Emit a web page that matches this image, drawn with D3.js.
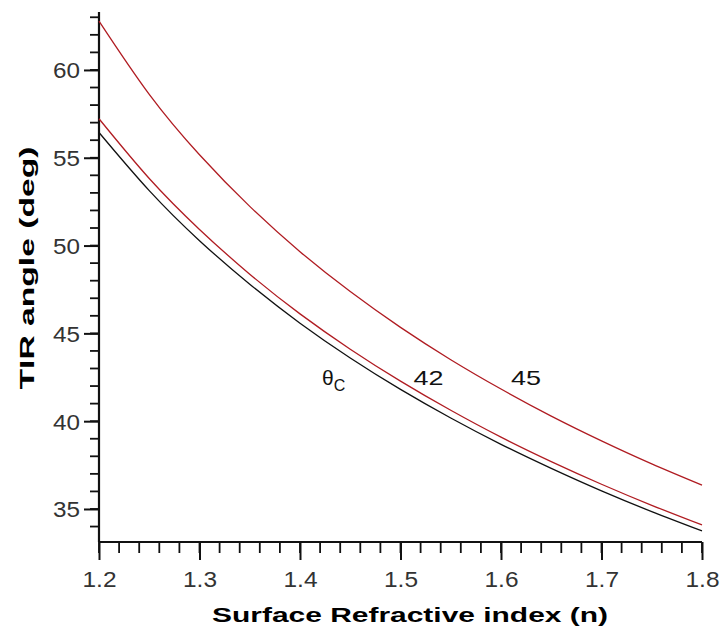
<!DOCTYPE html>
<html><head><meta charset="utf-8">
<script src="https://cdn.jsdelivr.net/npm/d3@7"></script>
<style>body{margin:0;background:#fff}svg{display:block}</style>
</head><body>
<svg id="c" width="724" height="633"></svg>
<script>
const nValues = [1.2,1.25,1.3,1.35,1.4,1.45,1.5,1.55,1.6,1.65,1.7,1.75,1.8];
const thetaC  = [56.44,53.13,50.28,47.80,45.58,43.60,41.81,40.18,38.68,37.31,36.03,34.85,33.75];
const tir42   = [57.22,53.82,50.92,48.37,46.11,44.10,42.28,40.62,39.09,37.70,36.41,35.21,34.09];
const tir45   = [62.78,58.61,55.17,52.23,49.65,47.38,45.34,43.50,41.83,40.29,38.88,37.57,36.36];
const xTickLabels = ["1.2","1.3","1.4","1.5","1.6","1.7","1.8"];
const yTickLabels = ["35","40","45","50","55","60"];
const seriesNames = ["θc","42","45"];

const svg = d3.select("#c");
const x = d3.scaleLinear().domain([1.2,1.8]).range([99,702]);
const y = d3.scaleLinear().domain([33.12,63.3]).range([542,12]);
const font = "Arial, 'Liberation Sans', sans-serif";

// minor ticks
const xMinor = d3.range(0,31).map(i=>1.2+i*0.02);
svg.append("g").selectAll("line").data(xMinor).join("line")
  .attr("x1",d=>x(d)).attr("x2",d=>x(d)).attr("y1",542).attr("y2",553)
  .attr("stroke","#111").attr("stroke-width",1.8);
const yMinor = d3.range(34,64);
svg.append("g").selectAll("line").data(yMinor).join("line")
  .attr("x1",90).attr("x2",99).attr("y1",d=>y(d)).attr("y2",d=>y(d))
  .attr("stroke","#111").attr("stroke-width",1.8);

// axes with major ticks
const xAxis = d3.axisBottom(x).tickValues(xTickLabels.map(Number)).tickSize(18).tickPadding(12).tickFormat(d=>d.toFixed(1));
const gx = svg.append("g").attr("transform","translate(0,542)").call(xAxis);
const yAxis = d3.axisLeft(y).tickValues(yTickLabels.map(Number)).tickSize(15).tickPadding(4);
const gy = svg.append("g").attr("transform","translate(99,0)").call(yAxis);
[gx,gy].forEach(g=>{
  g.select(".domain").attr("stroke","#111").attr("stroke-width",2.2);
  g.selectAll(".tick line").attr("stroke","#111").attr("stroke-width",2);
  g.selectAll(".tick text").attr("fill","#333").style("font-family",font).style("font-size","22px")
    .attr("lengthAdjust","spacingAndGlyphs");
});
gy.select(".domain").attr("d","M0,12V542");
gx.select(".domain").attr("d","M99,0H702");
gx.selectAll(".tick text").attr("dy","0.71em").attr("y",29).attr("textLength",34);
gy.selectAll(".tick text").attr("dy","0.36em").attr("x",-19).attr("textLength",27);

// curves
const series = [
  {vals: thetaC, color:"#111"},
  {vals: tir42, color:"#b01c22"},
  {vals: tir45, color:"#b01c22"}
];
const line = d3.line().x((d,i)=>x(nValues[i])).y(d=>y(d)).curve(d3.curveNatural);
svg.append("g").selectAll("path").data(series).join("path")
  .attr("d",d=>line(d.vals)).attr("fill","none")
  .attr("stroke",d=>d.color).attr("stroke-width",1.3);

// curve labels
const lab = svg.append("g").style("font-family",font).attr("fill","#111");
const tc = lab.append("text").attr("x",x(1.422)).attr("y",385).style("font-size","21px");
tc.append("tspan").text("θ");
tc.append("tspan").attr("dy",6).style("font-size","16px").text("C");
lab.append("text").attr("x",x(1.513)).attr("y",385).style("font-size","21px")
  .attr("textLength",30).attr("lengthAdjust","spacingAndGlyphs").text(seriesNames[1]);
lab.append("text").attr("x",x(1.610)).attr("y",385).style("font-size","21px")
  .attr("textLength",30).attr("lengthAdjust","spacingAndGlyphs").text(seriesNames[2]);

// axis titles
svg.append("text").attr("x",410).attr("y",622).attr("text-anchor","middle")
  .style("font-family",font).style("font-size","21px").style("font-weight","bold")
  .attr("textLength",396).attr("lengthAdjust","spacingAndGlyphs")
  .text("Surface Refractive index (n)");
svg.append("text").attr("transform","translate(34,268) rotate(-90)").attr("text-anchor","middle")
  .style("font-family",font).style("font-size","21px").style("font-weight","bold")
  .attr("textLength",243).attr("lengthAdjust","spacingAndGlyphs")
  .text("TIR angle (deg)");
</script>
</body></html>
